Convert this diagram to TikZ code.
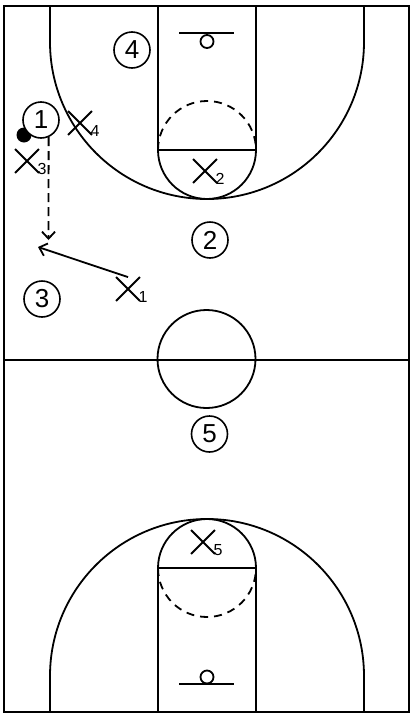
\documentclass[tikz,border=0pt]{standalone}
\usepackage{fontspec}
\setmainfont{Liberation Sans}
\usetikzlibrary{shapes.misc,arrows.meta}
\begin{document}
\begin{tikzpicture}[x=1pt,y=-1pt,
  court/.style={line width=1.8pt},
  dsh/.style={dash pattern=on 8pt off 6pt},
  player/.style={circle,draw,fill=white,line width=1.6pt,minimum size=36pt,inner sep=0pt,font=\fontsize{26}{26}\selectfont},
  defender/.style={cross out,draw,line width=1.8pt,minimum size=22pt,inner sep=0pt},
  sub/.style={font=\fontsize{16}{16}\selectfont,inner sep=0pt},
  chev/.style={-{Straight Barb[length=7pt,width=13pt]}}
]
\useasboundingbox (0,0) rectangle (416,718);
% court outline
\draw[court] (4,6) rectangle (409,712);
\draw[court] (4,360) -- (409,360);
\draw[court] (206.5,359) circle[radius=49];
% top half
\draw[court] (158,6) -- (158,150) -- (256,150) -- (256,6);
\draw[court] (158,150) arc[start angle=180,end angle=0,radius=49];
\draw[court,dsh] (158,150) arc[start angle=180,end angle=360,radius=49];
\draw[court] (50,6) -- (50,42) arc[start angle=180,end angle=0,radius=157] -- (364,6);
\draw[court] (179,33) -- (234,33);
\draw[court] (207,41.5) circle[radius=6.5];
% bottom half
\draw[court] (158,712) -- (158,568) -- (256,568) -- (256,712);
\draw[court] (158,568) arc[start angle=180,end angle=360,radius=49];
\draw[court,dsh] (158,568) arc[start angle=180,end angle=0,radius=49];
\draw[court] (50,712) -- (50,676) arc[start angle=180,end angle=360,radius=157] -- (364,712);
\draw[court] (179,684) -- (234,684);
\draw[court] (207,677) circle[radius=6.5];
% ball and players
\node[circle,fill,minimum size=15pt,inner sep=0pt] (ball) at (24,135) {};
\node[player] (p1) at (41,120) {1};
\node[player] (p4) at (132,50) {4};
\node[player] (p2) at (210,240) {2};
\node[player] (p3) at (42,299) {3};
\node[player] (p5) at (209.5,434) {5};
% defenders
\node[defender] (x4) at (80,123) {};
\node[sub] (x4s) at (95,131) {4};
\node[defender] (x3) at (27,161) {};
\node[sub] (x3s) at (42,169) {3};
\node[defender] (x2) at (205,171) {};
\node[sub] (x2s) at (220,179) {2};
\node[defender] (x1) at (128,289) {};
\node[sub] (x1s) at (143,297) {1};
\node[defender] (x5) at (203,542) {};
\node[sub] (x5s) at (218,550) {5};
% movement
\coordinate (c1) at (48.5,240);
\draw[court,dash pattern=on 9pt off 5pt,chev] (p1.-66) -- (c1);
\coordinate (c2) at (38,247);
\draw[court,chev] (x1.north) -- (c2);
\end{tikzpicture}
\end{document}
